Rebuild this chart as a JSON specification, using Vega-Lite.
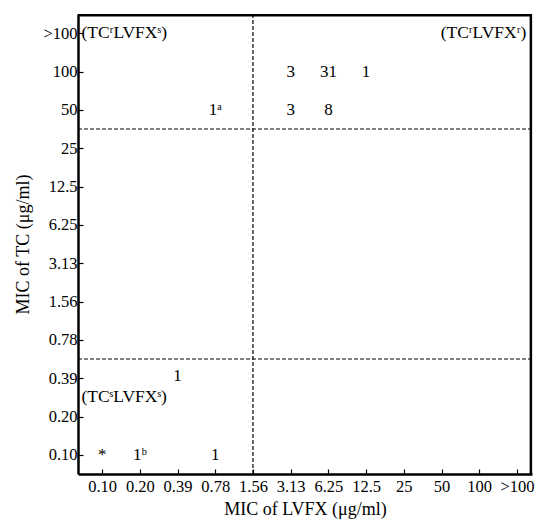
{
  "$schema": "https://vega.github.io/schema/vega-lite/v6.json",
  "autosize": "none",
  "width": 454,
  "height": 460,
  "padding": {"left": 78, "top": 14, "right": 3, "bottom": 54},
  "background": "white",
  "config": {
    "view": {"stroke": null},
    "font": "Liberation Serif",
    "axis": {
      "grid": false,
      "domainColor": "black",
      "domainWidth": 2.5,
      "tickColor": "black",
      "tickWidth": 1.2,
      "labelFont": "Liberation Serif",
      "labelFontSize": 16.5,
      "labelColor": "black",
      "titleFont": "Liberation Serif",
      "titleFontSize": 18,
      "titleFontWeight": "normal",
      "titleColor": "black"
    }
  },
  "datasets": {
    "counts": [
      {"xi": 3, "yi": 9, "label": "1ᵃ"},
      {"xi": 5, "yi": 10, "label": "3"},
      {"xi": 6, "yi": 10, "label": "31"},
      {"xi": 7, "yi": 10, "label": "1"},
      {"xi": 5, "yi": 9, "label": "3"},
      {"xi": 6, "yi": 9, "label": "8"},
      {"xi": 2, "yi": 2.05, "label": "1"},
      {"xi": 0, "yi": 0, "label": "*"},
      {"xi": 1, "yi": 0, "label": "1ᵇ"},
      {"xi": 3, "yi": 0, "label": "1"}
    ],
    "quadL": [
      {"xi": -0.55, "yi": 11, "label": "(TCʳLVFXˢ)"},
      {"xi": -0.55, "yi": 1.5, "label": "(TCˢLVFXˢ)"}
    ],
    "quadR": [
      {"xi": 11.25, "yi": 11, "label": "(TCʳLVFXʳ)"}
    ],
    "vline": [{"xi": 4}],
    "hline": [{"yi": 8.5}, {"yi": 2.5}],
    "vborder": [{"xi": 11.37}],
    "hborder": [{"yi": 11.47}]
  },
  "layer": [
    {
      "data": {"name": "vline"},
      "mark": {"type": "rule", "strokeDash": [4, 2], "strokeWidth": 1.2, "color": "black"},
      "encoding": {
        "x": {"field": "xi", "type": "quantitative", "scale": {"domain": [-0.64, 11.4], "nice": false, "zero": false},
          "axis": {"values": [0,1,2,3,4,5,6,7,8,9,10,11], "title": "MIC of LVFX (μg/ml)", "tickSize": -5, "labelPadding": 9, "titlePadding": 6,
            "labelExpr": "['0.10','0.20','0.39','0.78','1.56','3.13','6.25','12.5','25','50','100','>100'][datum.value]"}}
      }
    },
    {
      "data": {"name": "hline"},
      "mark": {"type": "rule", "strokeDash": [4, 2], "strokeWidth": 1.2, "color": "black"},
      "encoding": {
        "y": {"field": "yi", "type": "quantitative", "scale": {"domain": [-0.5, 11.5], "nice": false, "zero": false},
          "axis": {"values": [0,1,2,3,4,5,6,7,8,9,10,11], "title": "MIC of TC (μg/ml)", "tickSize": -5, "labelPadding": 6, "titlePadding": 10,
            "labelExpr": "['0.10','0.20','0.39','0.78','1.56','3.13','6.25','12.5','25','50','100','>100'][datum.value]"}}
      }
    },
    {
      "data": {"name": "vborder"},
      "mark": {"type": "rule", "strokeWidth": 2.5, "color": "black"},
      "encoding": {
        "x": {"field": "xi", "type": "quantitative"}
      }
    },
    {
      "data": {"name": "hborder"},
      "mark": {"type": "rule", "strokeWidth": 2.5, "color": "black"},
      "encoding": {
        "y": {"field": "yi", "type": "quantitative"}
      }
    },
    {
      "data": {"name": "counts"},
      "mark": {"type": "text", "fontSize": 17, "font": "Liberation Serif", "color": "black", "baseline": "middle", "align": "center"},
      "encoding": {
        "x": {"field": "xi", "type": "quantitative"},
        "y": {"field": "yi", "type": "quantitative"},
        "text": {"field": "label"}
      }
    },
    {
      "data": {"name": "quadL"},
      "mark": {"type": "text", "fontSize": 17.5, "font": "Liberation Serif", "color": "black", "baseline": "middle", "align": "left"},
      "encoding": {
        "x": {"field": "xi", "type": "quantitative"},
        "y": {"field": "yi", "type": "quantitative"},
        "text": {"field": "label"}
      }
    },
    {
      "data": {"name": "quadR"},
      "mark": {"type": "text", "fontSize": 17.5, "font": "Liberation Serif", "color": "black", "baseline": "middle", "align": "right"},
      "encoding": {
        "x": {"field": "xi", "type": "quantitative"},
        "y": {"field": "yi", "type": "quantitative"},
        "text": {"field": "label"}
      }
    }
  ]
}
